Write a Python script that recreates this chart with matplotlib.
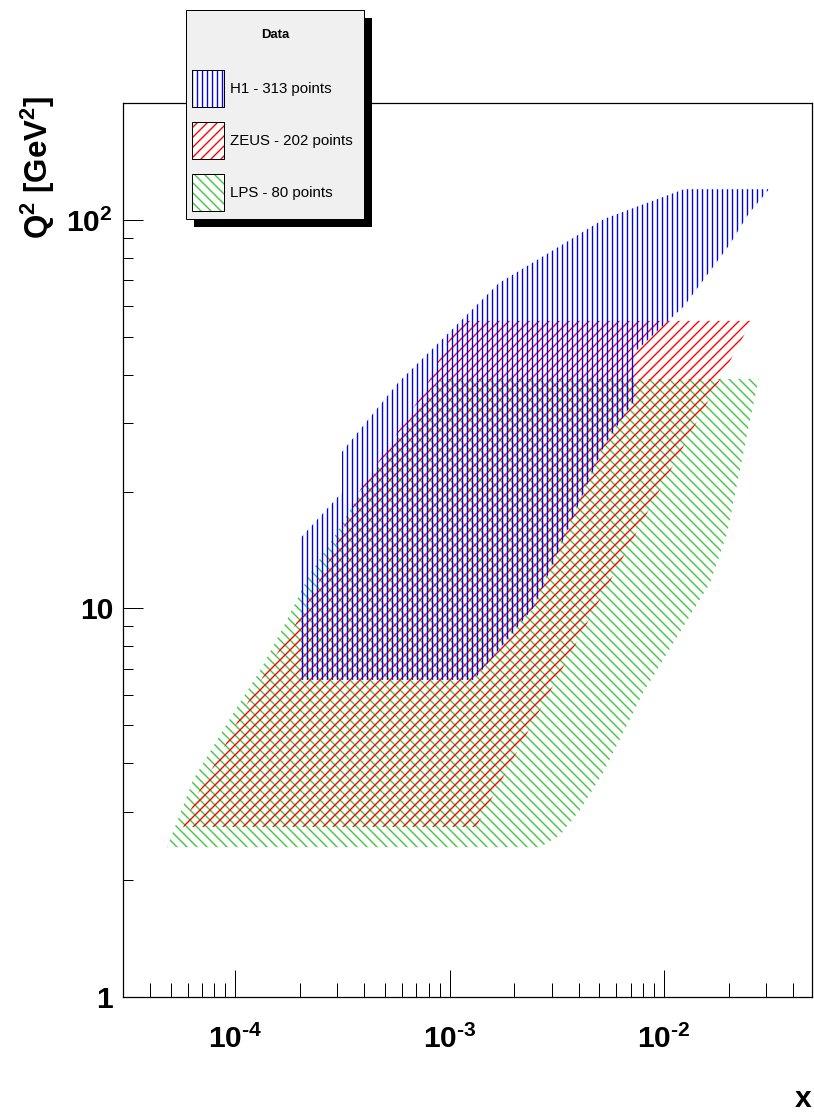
import numpy as np
import matplotlib
matplotlib.use('Agg')
import matplotlib.pyplot as plt
from matplotlib.patches import Polygon, Rectangle
from matplotlib.ticker import FixedLocator, FixedFormatter, LogLocator, NullFormatter
from matplotlib.transforms import Affine2D

# ---------------- data (kinematic coverage boundaries, x and Q^2) ----------------
h1_x = [2.0e-4, 2.0e-4, 3.15e-4, 3.15e-4, 5.8e-4, 8.5e-4, 1.70e-3, 3.0e-3, 5.25e-3,
        1.24e-2, 3.09e-2, 2.49e-2, 2.01e-2, 1.24e-2, 7.4e-3, 7.4e-3, 5.25e-3, 2.48e-3, 1.30e-3]
h1_q2 = [6.55, 15.1, 19.9, 25.3, 38.3, 47.1, 68.8, 83.2, 100.6,
         120.0, 120.0, 104.0, 86.0, 60.0, 46.0, 34.8, 26.2, 10.1, 6.55]

zeus_x = [5.72e-5, 6.72e-5, 8.6e-5, 1.113e-4, 1.50e-4, 1.905e-4, 2.57e-4, 3.83e-4,
          5.69e-4, 7.52e-4, 9.53e-4, 1.12e-3, 2.57e-2, 1.33e-3]
zeus_q2 = [2.74, 3.35, 4.25, 5.58, 7.37, 9.07, 12.3, 20.2,
           28.3, 35.9, 47.1, 55.0, 55.0, 2.74]

lps_x = [4.82e-5, 6.37e-5, 8.24e-5, 1.022e-4, 1.31e-4, 1.67e-4, 2.19e-4, 2.93e-4, 3.91e-4,
         5.57e-4, 7.29e-4, 9.03e-4, 2.77e-2, 2.52e-2, 2.21e-2, 1.97e-2, 1.64e-2, 1.09e-2,
         7.98e-3, 5.19e-3, 4.06e-3, 3.27e-3, 2.64e-3]
lps_q2 = [2.43, 3.62, 4.59, 5.58, 6.94, 8.91, 12.05, 15.46, 20.2,
          26.7, 33.0, 39.0, 39.0, 30.6, 21.4, 15.6, 11.63, 8.05,
          6.06, 3.77, 3.03, 2.61, 2.43]

series_labels = ['H1 - 313 points', 'ZEUS - 202 points', 'LPS - 80 points']
x_ticks = [1e-4, 1e-3, 1e-2]
x_ticklabels = [r'$10^{\text{-}4}$', r'$10^{\text{-}3}$', r'$10^{\text{-}2}$']
y_ticks = [1, 10, 100]
y_ticklabels = ['1', '10', r'$10^{2}$']

# ---------------- style ----------------
plt.rcParams['font.family'] = ['Liberation Sans', 'DejaVu Sans']
plt.rcParams['mathtext.fontset'] = 'custom'
plt.rcParams['mathtext.rm'] = 'Liberation Sans:bold'
plt.rcParams['mathtext.bf'] = 'Liberation Sans:bold'
plt.rcParams['mathtext.it'] = 'Liberation Sans:bold'
plt.rcParams['hatch.linewidth'] = 1.1

DPI = 90
W, H = 814, 1117
fig = plt.figure(figsize=(W / DPI, H / DPI), dpi=DPI)
fig.patch.set_facecolor('white')
ax = fig.add_axes([123 / W, 1 - 997 / H, (812 - 123) / W, (997 - 103) / H])
ax.set_xscale('log')
ax.set_yscale('log')
ax.set_xlim(3.0e-5, 0.049)
ax.set_ylim(1, 200)

for sp in ax.spines.values():
    sp.set_linewidth(1.0)
    sp.set_color('black')

ax.xaxis.set_major_locator(FixedLocator(x_ticks))
ax.xaxis.set_major_formatter(FixedFormatter(x_ticklabels))
ax.xaxis.set_minor_locator(LogLocator(base=10, subs=np.arange(2, 10), numticks=20))
ax.xaxis.set_minor_formatter(NullFormatter())
ax.yaxis.set_major_locator(FixedLocator(y_ticks))
ax.yaxis.set_major_formatter(FixedFormatter(y_ticklabels))
ax.yaxis.set_minor_locator(LogLocator(base=10, subs=np.arange(2, 10), numticks=20))
ax.yaxis.set_minor_formatter(NullFormatter())

ax.tick_params(axis='x', which='major', direction='in', length=21.6, width=0.8,
               top=False, labelsize=24, pad=22)
ax.tick_params(axis='x', which='minor', direction='in', length=10.8, width=0.8, top=False)
ax.tick_params(axis='y', which='major', direction='in', length=16, width=0.8,
               right=False, labelsize=24, pad=8)
ax.tick_params(axis='y', which='minor', direction='in', length=8, width=0.8, right=False)
for lab in ax.get_xticklabels() + ax.get_yticklabels():
    lab.set_fontweight('bold')

# ---------------- regions ----------------
ax.add_patch(Polygon(np.column_stack([lps_x, lps_q2]), closed=True, facecolor='none',
                     edgecolor='#3cc83c', lw=0, hatch='\\\\\\'))
ax.add_patch(Polygon(np.column_stack([zeus_x, zeus_q2]), closed=True, facecolor='none',
                     edgecolor='#ff0000', lw=0, hatch='///'))
ax.add_patch(Polygon(np.column_stack([h1_x, h1_q2]), closed=True, facecolor='none',
                     edgecolor='#0000ff', lw=0, hatch='|||'))

# ---------------- axis titles ----------------
fig.text(38 / W, 1 - 96 / H, r'Q$^{2}$ [GeV$^{2}$]', rotation=90, ha='center', va='top',
         fontsize=25, fontweight='bold')
fig.text(811 / W, 1 - 1107 / H, 'x', ha='right', va='baseline', fontsize=24, fontweight='bold')

# ---------------- legend (pixel coords, origin top-left) ----------------
pix = Affine2D().scale(1 / W, -1 / H).translate(0, 1) + fig.transFigure
fig.add_artist(Rectangle((194, 18), 178, 209, transform=pix, facecolor='black',
                         edgecolor='none', zorder=10))
fig.add_artist(Rectangle((186, 10), 178, 209, transform=pix, facecolor='#f0f0f0',
                         edgecolor='black', lw=0.8, zorder=11))
fig.text(275 / W, 1 - 35 / H, 'Data', ha='center', va='center', fontsize=10.5,
         fontweight='bold', zorder=12)
sw_colors = ['#0000ff', '#ff0000', '#3cc83c']
sw_hatch = ['|||', '///', '\\\\\\']
sw_y = [70, 122, 174]
for lab, c, h, y in zip(series_labels, sw_colors, sw_hatch, sw_y):
    fig.add_artist(Rectangle((192, y), 32, 37, transform=pix, facecolor='white',
                             edgecolor=c, lw=0, hatch=h, zorder=12))
    fig.add_artist(Rectangle((192, y), 32, 37, transform=pix, facecolor='none',
                             edgecolor='black', lw=0.8, zorder=13))
    fig.text(230 / W, 1 - (y + 19) / H, lab, ha='left', va='center', fontsize=12, zorder=13)

fig.savefig('out.png', dpi=DPI)
